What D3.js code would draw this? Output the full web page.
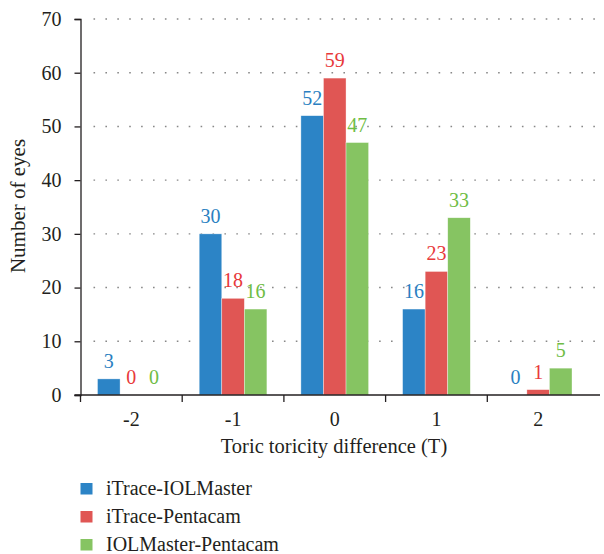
<!DOCTYPE html>
<html>
<head>
<meta charset="utf-8">
<script src="https://cdn.jsdelivr.net/npm/d3@7"></script>
<style>
    body { margin: 0; background: #fff; }
</style>
</head>
<body>
<div id="chart-container"></div>
<script>
var categories = ["-2", "-1", "0", "1", "2"];
var seriesNames = ["iTrace-IOLMaster", "iTrace-Pentacam", "IOLMaster-Pentacam"];
var iTraceIOLMaster = [3, 30, 52, 16, 0];
var iTracePentacam = [0, 18, 59, 23, 1];
var iolMasterPentacam = [0, 16, 47, 33, 5];
var yTicks = [0, 10, 20, 30, 40, 50, 60, 70];

var barColors = ["#2c84c6", "#e05654", "#86c462"];
var labelColors = ["#2a7fc1", "#e8393b", "#6fbd45"];

var FONT = "'Liberation Serif', 'Times New Roman', serif";

var settings = {
    w: 604,
    h: 554,
    left: 80.5,
    right: 589,
    top: 19,
    bottom: 395
};

var seriesValues = [iTraceIOLMaster, iTracePentacam, iolMasterPentacam];

var svg = d3.select("#chart-container").append("svg")
    .attr("width", settings.w).attr("height", settings.h)
    .attr("font-family", FONT);

var xScale = d3.scaleBand()
    .domain(categories)
    .range([settings.left, settings.right])
    .paddingInner(0)
    .paddingOuter(0);

var xInner = d3.scaleBand()
    .domain(d3.range(seriesNames.length))
    .range([17, xScale.bandwidth() - 17]);

var yScale = d3.scaleLinear()
    .domain([0, 70])
    .range([settings.bottom, settings.top]);

// dotted grid lines
svg.append("g").selectAll("line")
    .data(yTicks.slice(1))
    .enter().append("line")
    .attr("x1", settings.left + 13)
    .attr("x2", 600)
    .attr("y1", function(d) { return yScale(d); })
    .attr("y2", function(d) { return yScale(d); })
    .attr("stroke", "#888")
    .attr("stroke-width", 1.4)
    .attr("stroke-dasharray", "1.6,10.3");

// bars
var groups = svg.selectAll(".group")
    .data(categories)
    .enter().append("g")
    .attr("class", "group")
    .attr("transform", function(d) { return "translate(" + xScale(d) + ",0)"; });

groups.each(function(cat, ci) {
    var g = d3.select(this);
    seriesValues.forEach(function(vals, si) {
        var v = vals[ci];
        if (v > 0) {
            g.append("rect")
                .attr("x", xInner(si))
                .attr("width", xInner.bandwidth())
                .attr("y", yScale(v))
                .attr("height", yScale(0) - yScale(v))
                .attr("fill", barColors[si])
                .attr("stroke", "rgba(255,255,255,0.6)")
                .attr("stroke-width", 0.6);
        }
        g.append("text")
            .attr("x", xInner(si) + xInner.bandwidth() / 2)
            .attr("y", yScale(v) - 11)
            .attr("text-anchor", "middle")
            .attr("font-family", FONT)
            .attr("font-size", 20)
            .attr("fill", labelColors[si])
            .text(v);
    });
});

// y axis
var yAxis = d3.axisLeft(yScale).tickValues(yTicks).tickSize(6).tickPadding(13);
var yAxisG = svg.append("g")
    .attr("transform", "translate(" + settings.left + ",0)")
    .call(yAxis)
    .attr("font-family", FONT)
    .attr("font-size", 20);
yAxisG.select(".domain").attr("stroke", "#231f20").attr("stroke-width", 1.3);
yAxisG.selectAll(".tick line").attr("stroke", "#231f20").attr("stroke-width", 1.3);
yAxisG.selectAll(".tick text").attr("fill", "#231f20");

// x axis
var xAxis = d3.axisBottom(xScale).tickSize(0).tickPadding(17);
var xAxisG = svg.append("g")
    .attr("transform", "translate(0," + settings.bottom + ")")
    .call(xAxis)
    .attr("font-family", FONT)
    .attr("font-size", 20);
xAxisG.select(".domain").remove();
xAxisG.append("line")
    .attr("x1", settings.left - 6).attr("x2", 600)
    .attr("stroke", "#231f20").attr("stroke-width", 1.3);
xAxisG.selectAll(".tick text").attr("fill", "#231f20");
// tick marks at band edges
xAxisG.selectAll(".edge")
    .data(categories)
    .enter().append("line")
    .attr("class", "edge")
    .attr("x1", function(d) { return xScale(d); })
    .attr("x2", function(d) { return xScale(d); })
    .attr("y1", 0).attr("y2", 7)
    .attr("stroke", "#231f20").attr("stroke-width", 1.3);

// axis titles
svg.append("text")
    .attr("x", 334).attr("y", 453)
    .attr("text-anchor", "middle")
    .attr("font-size", 20.5)
    .attr("fill", "#231f20")
    .text("Toric toricity difference (T)");

svg.append("text")
    .attr("transform", "translate(25,206) rotate(-90)")
    .attr("text-anchor", "middle")
    .attr("font-size", 21)
    .attr("fill", "#231f20")
    .text("Number of eyes");

// legend
var legend = svg.append("g").attr("transform", "translate(80.5,483)");
var rows = legend.selectAll("g")
    .data(seriesNames)
    .enter().append("g")
    .attr("transform", function(d, i) { return "translate(0," + (i * 28) + ")"; });
rows.append("rect")
    .attr("width", 12).attr("height", 11.5)
    .attr("fill", function(d, i) { return barColors[i]; });
rows.append("text")
    .attr("x", 25.5).attr("y", 11.5)
    .attr("font-size", 20)
    .attr("fill", "#231f20")
    .text(function(d) { return d; });
</script>
</body>
</html>
